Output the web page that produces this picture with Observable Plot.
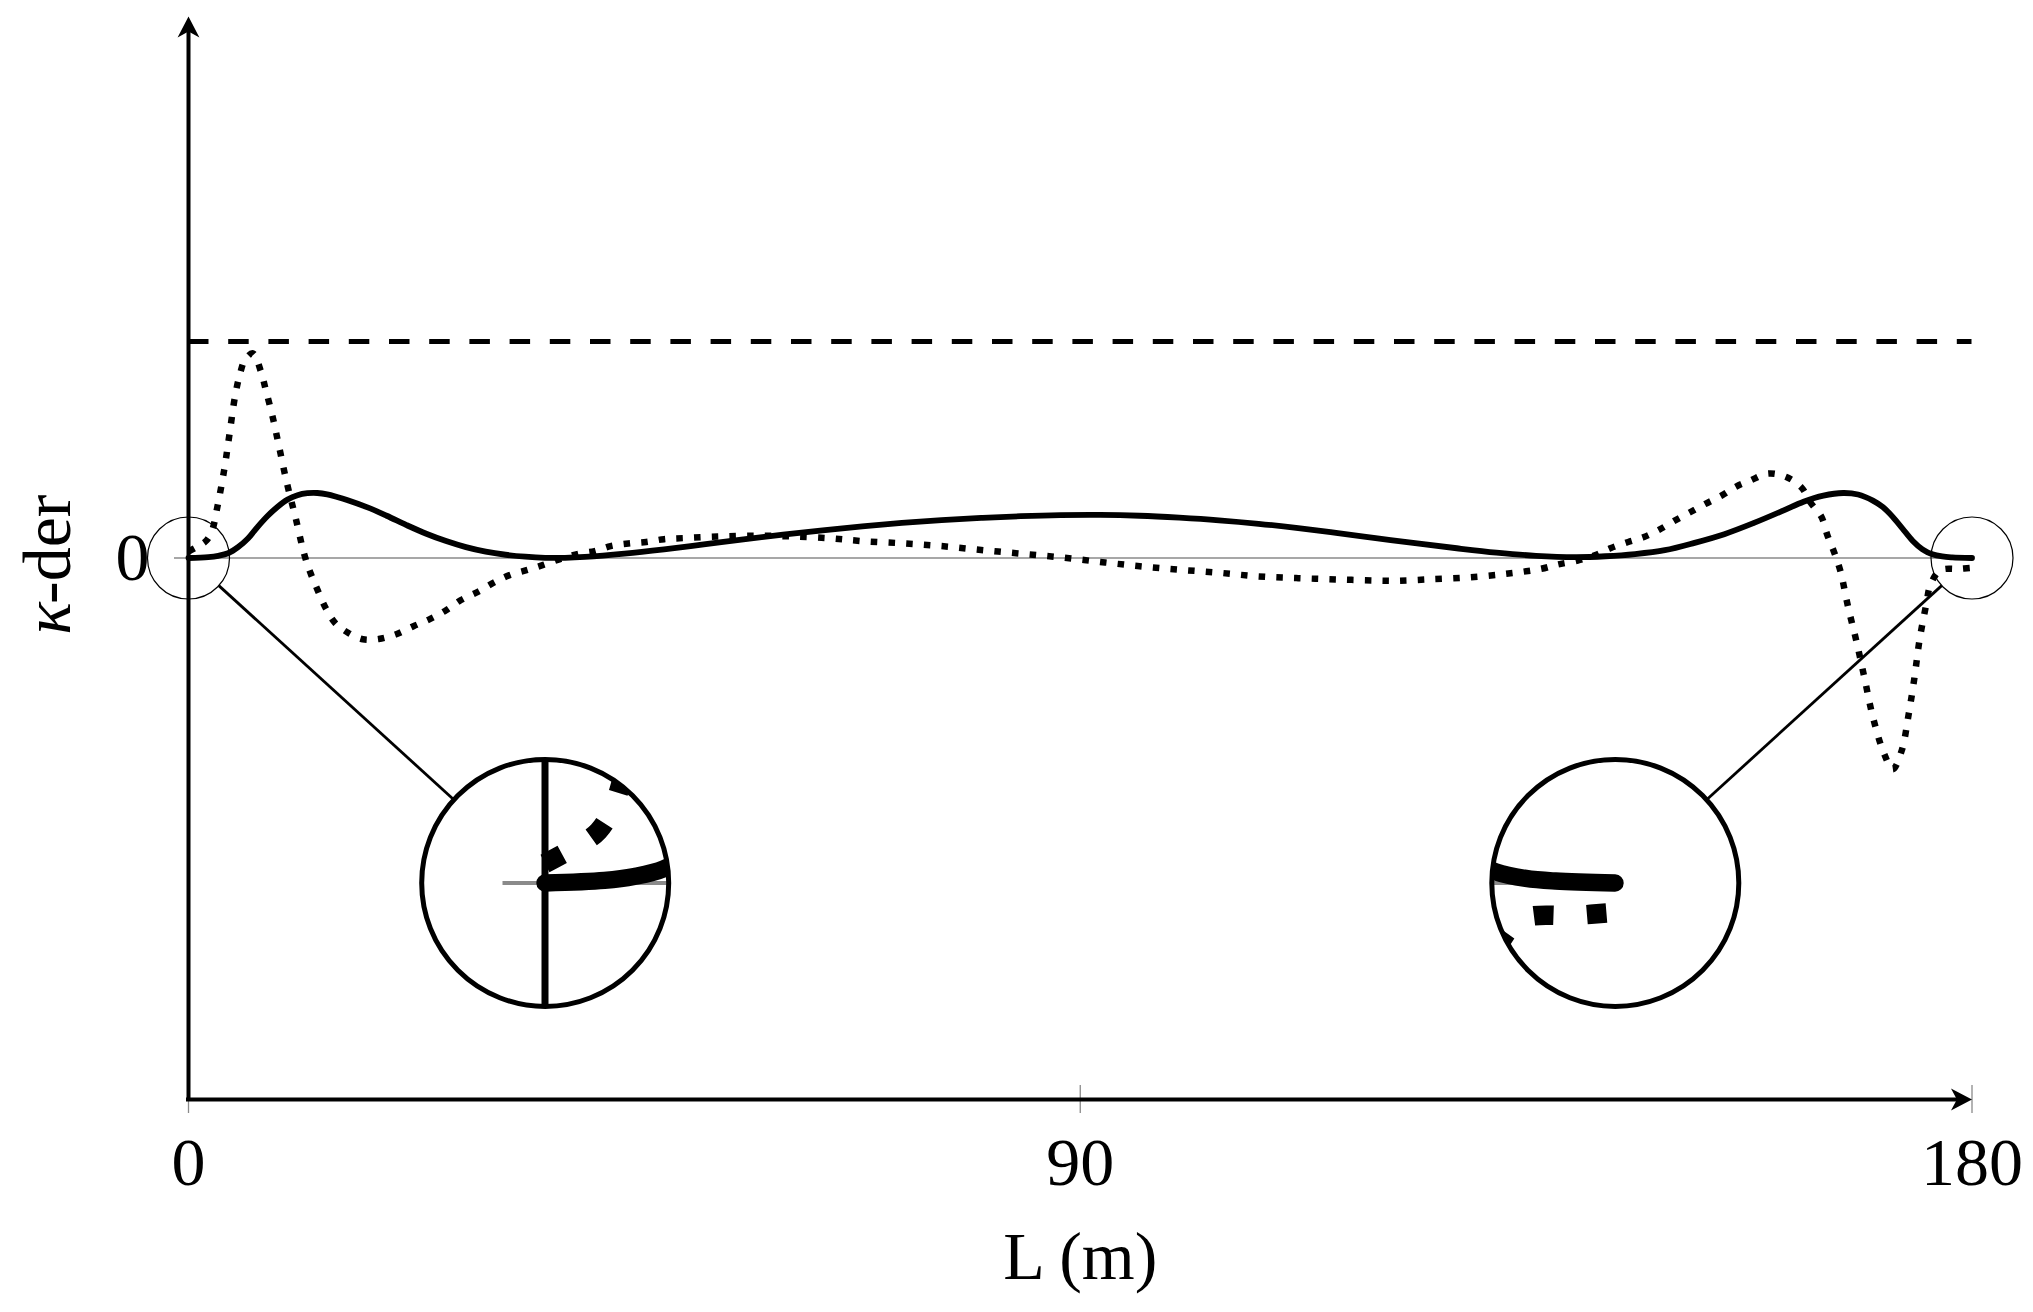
<!DOCTYPE html>
<html>
<head>
<meta charset="utf-8">
<script src="https://cdn.jsdelivr.net/npm/d3@7"></script>
<script src="https://cdn.jsdelivr.net/npm/@observablehq/plot@0.6"></script>
<style>
html, body { margin: 0; padding: 0; background: #fff; }
#chart { position: relative; width: 2033px; height: 1312px; }
#chart .inset { position: absolute; z-index: 1; background: #fff; }
#chart .main { position: absolute; left: 0; top: 0; z-index: 2; pointer-events: none; }
</style>
</head>
<body>
<div id="chart"></div>
<script>
// ---------- data ----------
const solidX = [0, 2, 3, 4, 5, 6, 7, 8, 9, 10, 11, 12, 13, 14, 15, 16, 18, 20, 22, 24, 26, 28, 30, 32, 34, 36, 38, 40, 44, 48, 52, 56, 60, 64, 68, 72, 76, 80, 84, 88, 92, 96, 100, 104, 108, 112, 116, 120, 124, 128, 132, 136, 140, 143, 146, 149, 152, 155, 158, 161, 163, 165, 167, 168.5, 170, 171, 172, 173, 174, 175, 176, 177, 178, 180];
const solidY = [0, 0.004, 0.01, 0.022, 0.05, 0.09, 0.145, 0.195, 0.237, 0.27, 0.29, 0.299, 0.3, 0.294, 0.282, 0.268, 0.235, 0.195, 0.152, 0.112, 0.078, 0.05, 0.029, 0.015, 0.006, 0.001, 0.001, 0.005, 0.02, 0.04, 0.063, 0.086, 0.108, 0.128, 0.146, 0.162, 0.175, 0.185, 0.193, 0.198, 0.199, 0.195, 0.186, 0.174, 0.158, 0.138, 0.115, 0.091, 0.067, 0.045, 0.025, 0.01, 0.004, 0.008, 0.018, 0.036, 0.07, 0.11, 0.162, 0.22, 0.26, 0.288, 0.3, 0.293, 0.265, 0.235, 0.19, 0.135, 0.08, 0.04, 0.017, 0.007, 0.003, 0];

const dottedX = [0, 1, 1.8, 2.4, 2.9, 3.6, 4.1, 4.7, 5.2, 5.7, 6.5, 7.3, 7.8, 8.5, 9.1, 9.9, 10.8, 11.7, 12.3, 13, 13.8, 14.8, 16.1, 17.6, 19.2, 20.9, 22.7, 24.4, 26, 27.5, 29.2, 30.8, 32.4, 34.2, 35.8, 37.5, 39.4, 41, 42.6, 44.4, 46.2, 48, 50, 53.4, 57, 60.6, 64.7, 68, 72, 76, 80, 84, 88, 92, 96, 100, 104, 108, 112, 116, 120, 122, 125, 129, 133, 136.5, 138.2, 140.2, 142, 143.5, 145.3, 146.9, 148.4, 149.9, 151.5, 153.1, 154.8, 156.2, 157.6, 159.4, 161.2, 162.8, 163.7, 164.8, 165.4, 166.1, 166.7, 167.5, 168.4, 169.2, 170, 171.1, 172, 172.9, 173.6, 174.2, 174.7, 175.4, 175.8, 176.8, 178.7, 180];
const dottedY = [0.03, 0.055, 0.08, 0.13, 0.233, 0.406, 0.56, 0.747, 0.85, 0.915, 0.945, 0.862, 0.776, 0.65, 0.523, 0.352, 0.187, 0.014, -0.068, -0.145, -0.227, -0.3, -0.345, -0.375, -0.374, -0.353, -0.315, -0.281, -0.241, -0.194, -0.156, -0.114, -0.079, -0.055, -0.032, -0.005, 0.02, 0.032, 0.055, 0.067, 0.074, 0.087, 0.092, 0.099, 0.103, 0.1, 0.091, 0.078, 0.068, 0.055, 0.037, 0.02, 0.003, -0.018, -0.038, -0.054, -0.068, -0.085, -0.093, -0.099, -0.104, -0.105, -0.099, -0.09, -0.073, -0.05, -0.03, -0.012, 0.014, 0.045, 0.074, 0.097, 0.13, 0.17, 0.21, 0.25, 0.29, 0.33, 0.357, 0.39, 0.375, 0.325, 0.256, 0.19, 0.106, 0.025, -0.057, -0.227, -0.397, -0.565, -0.735, -0.9, -0.975, -0.89, -0.724, -0.55, -0.38, -0.21, -0.125, -0.057, -0.05, -0.045];

const limitY = [1];
const xTicks = [0, 90, 180];
const yTicks = [0];
const xLabel = "L (m)";
const yLabelSymbol = "κ";
const yLabelRest = "-der";

// zoom callouts: focus point (data) and lens centre (data)
const zoomFocusX = [0, 180];
const zoomFocusY = [0, 0];
const zoomCenterX = [36, 144];
const zoomCenterY = [-1.5, -1.5];

// ---------- layout ----------
const W = 2033, H = 1312;
const mL = 188, mR = 61.5, mT = 16, mB = 213;
const xDomain = [0, 180], yDomain = [-2.5, 2.5];
const kx = (W - mL - mR) / (xDomain[1] - xDomain[0]);
const ky = (H - mT - mB) / (yDomain[1] - yDomain[0]);
const FONT = "Liberation Serif";
const FS = 68;
const rSmall = 41, rLens = 123.5, mag = 3;
const GRAY = "#8a8a8a";
const SOLID_W = 5.8, DOT_W = 6.5, DOT_GAP = 11.2;

const solid = solidX.map((x, i) => ({x, y: solidY[i]}));
const dotted = dottedX.map((x, i) => ({x, y: dottedY[i]}));
const zooms = zoomFocusX.map((fx, i) => ({fx, fy: zoomFocusY[i], cx: zoomCenterX[i], cy: zoomCenterY[i]}));
const links = zooms.map(d => {
  const dx = (d.cx - d.fx) * kx, dy = -(d.cy - d.fy) * ky;
  const len = Math.hypot(dx, dy), ux = dx / len, uy = dy / len;
  return {
    x1: d.fx + ux * rSmall / kx, y1: d.fy - uy * rSmall / ky,
    x2: d.cx - ux * rLens / kx, y2: d.cy + uy * rLens / ky
  };
});

function arrowSymbol(dir) {
  return {
    draw(ctx, size) {
      const L = Math.sqrt(size / Math.PI), h = L * 0.52, n = L * 0.72;
      const pts = dir === "up"
        ? [[0, 0], [h, L], [0, n], [-h, L]]
        : [[0, 0], [-L, h], [-n, 0], [-L, -h]];
      ctx.moveTo(pts[0][0], pts[0][1]);
      for (let i = 1; i < pts.length; i++) ctx.lineTo(pts[i][0], pts[i][1]);
      ctx.closePath();
    }
  };
}

const yAxisTop = [{x: xDomain[0], y: yDomain[1]}];
const xAxisEnd = [{x: xDomain[1], y: yDomain[0]}];

const main = Plot.plot({
  width: W, height: H,
  marginLeft: mL, marginRight: mR, marginTop: mT, marginBottom: mB,
  x: {domain: xDomain, axis: null},
  y: {domain: yDomain, axis: null},
  style: {background: "transparent", fontFamily: FONT},
  marks: [
    Plot.ruleY(yTicks, {x1: xDomain[0] - 14 / kx, x2: xDomain[1], stroke: GRAY, strokeWidth: 1.3}),
    Plot.ruleX(xTicks, {y1: yDomain[0] - 14 / ky, y2: yDomain[0] + 14 / ky, stroke: GRAY, strokeWidth: 1.3}),
    Plot.ruleY(limitY, {x1: xDomain[0], x2: xDomain[1], stroke: "black", strokeWidth: 5, strokeDasharray: "20.5 19.7"}),
    Plot.line(solid, {x: "x", y: "y", curve: "catmull-rom", stroke: "black", strokeWidth: SOLID_W}),
    Plot.line(dotted, {x: "x", y: "y", curve: "catmull-rom", stroke: "black", strokeWidth: DOT_W, strokeDasharray: `${DOT_W} ${DOT_GAP}`, strokeLinecap: "butt"}),
    Plot.ruleX([xDomain[0]], {y1: yDomain[0] - 2 / ky, y2: yDomain[1] - 12 / ky, stroke: "black", strokeWidth: 4}),
    Plot.ruleY([yDomain[0]], {x1: xDomain[0] - 2 / kx, x2: xDomain[1] - 12 / kx, stroke: "black", strokeWidth: 4}),
    Plot.dot(yAxisTop, {x: "x", y: "y", r: 21, symbol: arrowSymbol("up"), fill: "black", stroke: "none"}),
    Plot.dot(xAxisEnd, {x: "x", y: "y", r: 21, symbol: arrowSymbol("right"), fill: "black", stroke: "none"}),
    Plot.dot(zooms, {x: "fx", y: "fy", r: rSmall, fill: "none", stroke: "black", strokeWidth: 1.2}),
    Plot.link(links, {x1: "x1", y1: "y1", x2: "x2", y2: "y2", stroke: "black", strokeWidth: 2.8}),
    Plot.dot(zooms, {x: "cx", y: "cy", r: rLens, fill: "none", stroke: "black", strokeWidth: 5}),
    Plot.text(yTicks, {x: xDomain[0], y: d => d, text: d => String(d), textAnchor: "end", dx: -39, fontSize: FS, fontFamily: FONT}),
    Plot.text(xTicks, {x: d => d, y: yDomain[0], text: d => String(d), dy: 64, fontSize: FS, fontFamily: FONT}),
    Plot.text([xLabel], {x: (xDomain[0] + xDomain[1]) / 2, y: yDomain[0], text: d => d, dy: 158, fontSize: FS, fontFamily: FONT}),
    Plot.text([yLabelRest], {x: xDomain[0], y: 0, text: d => d, rotate: -90, dx: 48 - mL, dy: 46, textAnchor: "start", fontSize: FS, fontFamily: FONT}),
    Plot.text([yLabelSymbol], {x: xDomain[0], y: 0, text: d => d, rotate: -90, dx: 48 - mL, dy: 44, textAnchor: "end", fontSize: FS, fontFamily: FONT, fontStyle: "italic"})
  ]
});
main.classList.add("main");
const chart = document.getElementById("chart");
chart.appendChild(main);

const sx = main.scale("x"), sy = main.scale("y");
const size = 2 * rLens;
zooms.forEach(z => {
  const hw = rLens / (kx * mag), hh = rLens / (ky * mag);
  const p = Plot.plot({
    width: size, height: size, margin: 0,
    x: {domain: [z.fx - hw, z.fx + hw], axis: null},
    y: {domain: [z.fy - hh, z.fy + hh], axis: null},
    style: {background: "white"},
    marks: [
      Plot.ruleY(yTicks, {x1: xDomain[0] - 14 / kx, x2: xDomain[1], stroke: GRAY, strokeWidth: 1.3 * mag}),
      Plot.ruleX([xDomain[0]], {stroke: "black", strokeWidth: 7}),
      Plot.line(solid, {x: "x", y: "y", curve: "catmull-rom", stroke: "black", strokeWidth: SOLID_W * mag}),
      Plot.line(dotted, {x: "x", y: "y", curve: "catmull-rom", stroke: "black", strokeWidth: DOT_W * mag, strokeDasharray: `${DOT_W * mag} ${DOT_GAP * mag}`, strokeLinecap: "butt"})
    ]
  });
  const div = document.createElement("div");
  div.className = "inset";
  const px = sx.apply(z.cx), py = sy.apply(z.cy);
  div.style.left = (px - rLens) + "px";
  div.style.top = (py - rLens) + "px";
  div.style.width = size + "px";
  div.style.height = size + "px";
  div.style.clipPath = `circle(${rLens}px at 50% 50%)`;
  div.appendChild(p);
  chart.appendChild(div);
});
</script>
</body>
</html>
